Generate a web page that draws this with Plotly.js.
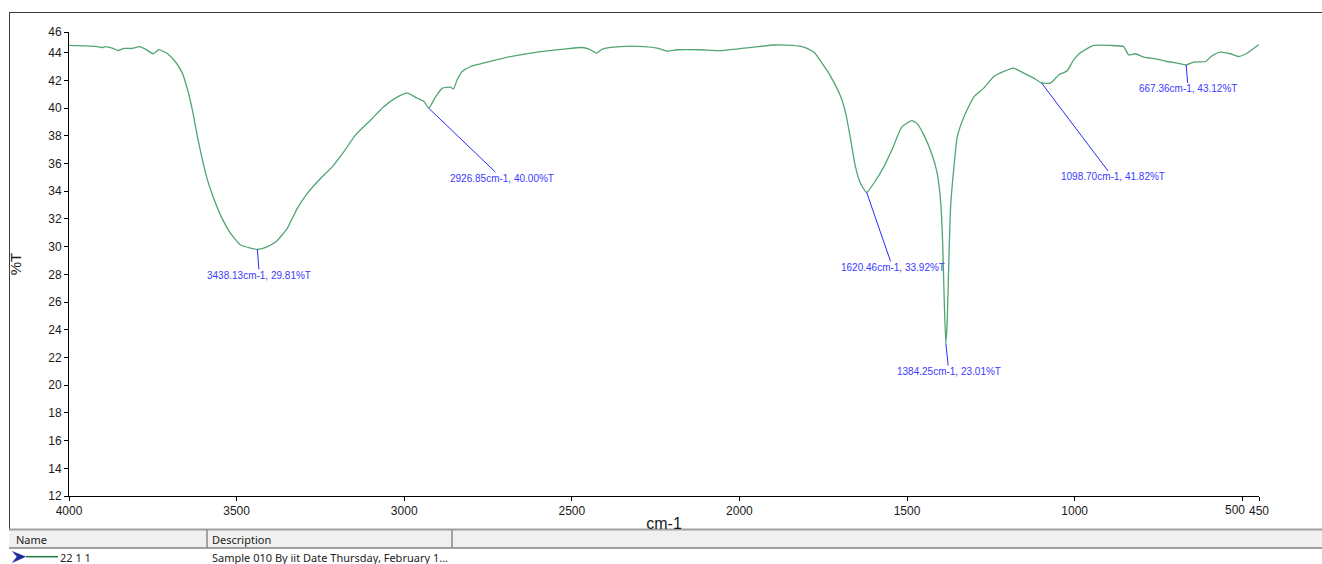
<!DOCTYPE html>
<html>
<head>
<meta charset="utf-8">
<script src="https://cdn.plot.ly/plotly-3.0.1.min.js"></script>
<style>html,body{margin:0;padding:0;background:#fff;}#chart{width:1322px;height:564px;}</style>
</head>
<body>
<div id="chart"></div>
<script>
// ---- data ----
const wavenumber = [4000,3915,3900,3891,3871,3854,3836,3811,3789,3771,3749,3732,3707,3683,3662,3647,3632,3617,3602,3587,3572,3548,3518,3488,3458,3438.13,3413,3383,3349,3319,3289,3249,3214,3180,3145,3100,3061,3021,2991,2961,2941,2926.85,2906,2886,2862,2853,2842,2827,2802,2752,2683,2593,2524,2469,2449,2426,2409,2355,2285,2245,2215,2185,2116,2056,1957,1897,1843,1808,1778,1748,1728,1698,1683,1668,1654,1639,1620.46,1599,1569,1541,1516,1486,1471,1450,1425,1410,1400,1394,1389,1384.25,1380,1375,1370,1360,1350,1330,1300,1271,1241,1211,1182,1152,1122,1098.70,1072,1047,1022,1003,983,943,893,854,839,819,794,754,724,694,667.36,645,610,590,565,535,510,485,451];
const transmittance = [44.53,44.45,44.38,44.45,44.34,44.16,44.31,44.31,44.45,44.25,43.93,44.22,43.95,43.37,42.53,41.4,39.88,37.95,36.26,34.82,33.73,32.28,30.96,30.12,29.9,29.81,29.95,30.35,31.32,32.77,33.85,34.94,35.78,36.86,38.07,39.15,40.1,40.8,41.08,40.72,40.48,40.0,40.84,41.45,41.52,41.4,42.05,42.65,43.01,43.33,43.73,44.09,44.27,44.38,44.27,43.98,44.27,44.45,44.45,44.34,44.12,44.22,44.22,44.16,44.41,44.56,44.53,44.41,44.05,43.05,42.3,40.84,39.64,37.71,35.78,34.58,33.92,34.58,35.78,37.22,38.63,39.1,38.92,38.07,36.62,35.3,33.37,30.48,26.14,23.01,24.69,29.27,32.89,35.78,37.95,39.39,40.84,41.45,42.28,42.65,42.89,42.53,42.17,41.82,41.81,42.41,42.7,43.49,44.0,44.53,44.53,44.45,43.85,43.93,43.69,43.54,43.37,43.25,43.12,43.33,43.37,43.78,44.05,43.93,43.73,43.98,44.58];
const peakWavenumber = [3438.13, 2926.85, 1620.46, 1384.25, 1098.70, 667.36];
const peakTransmittance = [29.81, 40.00, 33.92, 23.01, 41.82, 43.12];
const xTickVals = [4000, 3500, 3000, 2500, 2000, 1500, 1000, 500, 450];
const xTickText = ['4000', '3500', '3000', '2500', '2000', '1500', '1000', '', '450'];
const yTickVals = [12, 14, 16, 18, 20, 22, 24, 26, 28, 30, 32, 34, 36, 38, 40, 42, 44, 45.5];
const yTickText = ['12', '14', '16', '18', '20', '22', '24', '26', '28', '30', '32', '34', '36', '38', '40', '42', '44', '46'];
const tableHeaders = ['Name', 'Description'];
const tableRow = ['22 1 1', 'Sample 010 By iit Date Thursday, February 1...'];

// ---- layout helpers (pixel -> paper) ----
const W = 1322, H = 564, ML = 69, MR = 63, MT = 32, MB = 68;
const PW = W - ML - MR, PH = H - MT - MB;
const px = x => (x - ML) / PW;
const py = y => (H - MB - y) / PH;

const labelOffsets = [[2, 26], [73, 70], [26, 75], [3, 28], [71, 94], [2, 24]];
const peakColor = '#3b3bff';

const annotations = peakWavenumber.map((w, i) => ({
  x: w, y: peakTransmittance[i], xref: 'x', yref: 'y',
  text: w.toFixed(2) + 'cm-1, ' + peakTransmittance[i].toFixed(2) + '%T',
  showarrow: true, arrowhead: 0, arrowwidth: 1, arrowcolor: '#2a2aff',
  ax: labelOffsets[i][0], ay: labelOffsets[i][1],
  font: {family: 'Liberation Sans, Arial, sans-serif', size: 10, color: peakColor},
  borderpad: 0
}));

// "500" label shifted left of its tick (as in the reference)
annotations.push({
  x: 500, y: 0, xref: 'x', yref: 'paper', text: '500', showarrow: false,
  xanchor: 'center', yanchor: 'top', xshift: -7, yshift: -5,
  font: {family: 'Liberation Sans, Arial, sans-serif', size: 12, color: '#1a1a1a'}
});

const tableFont = {family: 'Noto Sans, Open Sans, sans-serif', size: 11, color: '#222'};
annotations.push({x: px(14), y: py(539.5), xref: 'paper', yref: 'paper', text: tableHeaders[0], showarrow: false, xanchor: 'left', yanchor: 'middle', font: tableFont});
annotations.push({x: px(210), y: py(539.5), xref: 'paper', yref: 'paper', text: tableHeaders[1], showarrow: false, xanchor: 'left', yanchor: 'middle', font: tableFont});
annotations.push({x: px(58), y: py(557.5), xref: 'paper', yref: 'paper', text: tableRow[0], showarrow: false, xanchor: 'left', yanchor: 'middle', font: tableFont});
annotations.push({x: px(210), y: py(557.5), xref: 'paper', yref: 'paper', text: tableRow[1], showarrow: false, xanchor: 'left', yanchor: 'middle', font: tableFont});

const shapes = [
  // outer frame
  {type: 'line', xref: 'paper', yref: 'paper', x0: px(9), x1: px(1322), y0: py(12.5), y1: py(12.5), line: {color: '#3a3a3a', width: 1}},
  {type: 'line', xref: 'paper', yref: 'paper', x0: px(9.5), x1: px(9.5), y0: py(12), y1: py(529), line: {color: '#3a3a3a', width: 1}},
  // table header
  {type: 'rect', xref: 'paper', yref: 'paper', x0: px(9), x1: px(1322), y0: py(529), y1: py(548), fillcolor: '#f0f0f0', line: {width: 0}},
  {type: 'line', xref: 'paper', yref: 'paper', x0: px(9), x1: px(1322), y0: py(529.5), y1: py(529.5), line: {color: '#a0a0a0', width: 2}},
  {type: 'line', xref: 'paper', yref: 'paper', x0: px(9), x1: px(1322), y0: py(548), y1: py(548), line: {color: '#a0a0a0', width: 2}},
  {type: 'line', xref: 'paper', yref: 'paper', x0: px(207), x1: px(207), y0: py(530), y1: py(548), line: {color: '#8a8a8a', width: 1.5}},
  {type: 'line', xref: 'paper', yref: 'paper', x0: px(452), x1: px(452), y0: py(530), y1: py(548), line: {color: '#8a8a8a', width: 1.5}},
  // legend icon
  {type: 'path', xref: 'paper', yref: 'paper',
   path: 'M' + px(12.5) + ',' + py(551.5) + ' L' + px(25.5) + ',' + py(556.7) + ' L' + px(12.5) + ',' + py(562.5) + ' L' + px(17) + ',' + py(556.7) + ' Z',
   fillcolor: '#1c2a9c', line: {color: '#1c2a9c', width: 0.5}},
  {type: 'line', xref: 'paper', yref: 'paper', x0: px(26), x1: px(58), y0: py(556.7), y1: py(556.7), line: {color: '#2a7d45', width: 1.6}}
];

const trace = {
  x: wavenumber, y: transmittance, type: 'scatter', mode: 'lines',
  line: {color: '#52a572', width: 1.3, shape: 'spline', smoothing: 0.5}, hoverinfo: 'skip'
};

const axisFont = {family: 'Liberation Sans, Arial, sans-serif', size: 12, color: '#1a1a1a'};
const layout = {
  width: W, height: H,
  margin: {l: ML, r: MR, t: MT, b: MB, pad: 0},
  paper_bgcolor: '#ffffff', plot_bgcolor: '#ffffff',
  showlegend: false,
  xaxis: {
    range: [4000, 450], tickmode: 'array', tickvals: xTickVals, ticktext: xTickText,
    tickangle: 0, ticks: 'outside', ticklen: 4, tickwidth: 1, tickcolor: '#000',
    showline: true, linecolor: '#000', linewidth: 1, showgrid: false, zeroline: false,
    tickfont: axisFont,
    title: {text: 'cm-1', font: {family: 'Liberation Sans, Arial, sans-serif', size: 16, color: '#1a1a1a'}, standoff: 0},
    automargin: false
  },
  yaxis: {
    range: [12, 45.5], tickmode: 'array', tickvals: yTickVals, ticktext: yTickText,
    ticks: 'outside', ticklen: 4, tickwidth: 1, tickcolor: '#000',
    showline: true, linecolor: '#000', linewidth: 1, showgrid: false, zeroline: false,
    tickfont: axisFont,
    title: {text: '%T', font: {family: 'Liberation Sans, Arial, sans-serif', size: 15, color: '#1a1a1a'}, standoff: 22},
    automargin: false
  },
  annotations: annotations,
  shapes: shapes
};

Plotly.newPlot('chart', [trace], layout, {displayModeBar: false, staticPlot: true});
</script>
</body>
</html>
